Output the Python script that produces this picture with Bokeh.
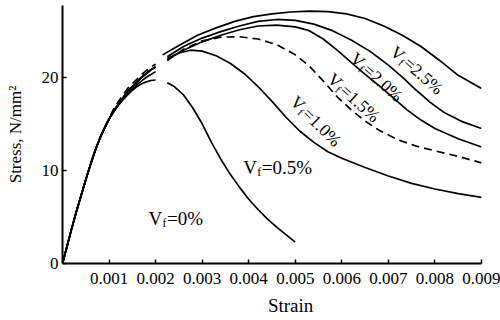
import math
from bokeh.plotting import figure
from bokeh.models import FixedTicker, PrintfTickFormatter, LinearAxis, CustomJSTickFormatter
from bokeh.core.properties import value
from bokeh.embed import file_html
from bokeh.resources import INLINE

# ---------------- data ----------------
x_ticks = [0.001, 0.002, 0.003, 0.004, 0.005, 0.006, 0.007, 0.008, 0.009]
y_ticks = [0, 10, 20]

# common rising branch (drawn up to the break near strain 0.002)
rise_strain = [0, 0.0001, 0.0002, 0.0003, 0.0004, 0.0005, 0.0006, 0.0007, 0.0008, 0.0009,
               0.0010, 0.0011, 0.0012, 0.0013, 0.0014, 0.0015, 0.0016, 0.0017, 0.0018, 0.0019, 0.0020]
rise_stress_00 = [0, 1.9, 3.8, 5.6, 7.3, 9.0, 10.6, 12.1, 13.4, 14.5,
                  15.5, 16.3, 17.0, 17.6, 18.1, 18.6, 19.0, 19.3, 19.5, 19.65, 19.7]
rise_stress_05 = [0, 1.9, 3.8, 5.6, 7.3, 9.0, 10.6, 12.1, 13.4, 14.5,
                  15.5, 16.3, 17.0, 17.6, 18.2, 18.7, 19.2, 19.6, 20.0, 20.3, 20.6]
rise_stress_fibre = [0, 1.9, 3.8, 5.6, 7.3, 9.0, 10.6, 12.1, 13.4, 14.5,
                     15.5, 16.4, 17.1, 17.8, 18.5, 19.0, 19.5, 20.0, 20.4, 20.8, 21.1]
rise_stress_10 = [0, 1.9, 3.8, 5.6, 7.3, 9.0, 10.6, 12.1, 13.5, 14.6,
                  15.6, 16.6, 17.4, 18.1, 18.8, 19.3, 19.8, 20.3, 20.7, 21.1, 21.4]

# branches after the break
post_strain_00 = [0.00225, 0.0024, 0.0026, 0.0028, 0.0030, 0.0032, 0.0034, 0.0036, 0.0038,
                  0.0040, 0.0042, 0.0044, 0.0046, 0.0048, 0.0050]
post_stress_00 = [19.4, 19.0, 18.1, 16.7, 15.0, 13.0, 11.2, 9.6, 8.2,
                  6.9, 5.8, 4.8, 3.9, 3.1, 2.3]

post_strain_05 = [0.00225, 0.0025, 0.00275, 0.0030, 0.0033, 0.0036, 0.0039, 0.0042, 0.0045, 0.0048,
                  0.0051, 0.0054, 0.0057, 0.0060, 0.0065, 0.0070, 0.0075, 0.0080, 0.0085, 0.0090]
post_stress_05 = [22.0, 22.6, 22.9, 22.8, 22.3, 21.5, 20.4, 19.0, 17.4, 15.7,
                  14.2, 13.0, 12.0, 11.3, 10.3, 9.4, 8.6, 8.0, 7.5, 7.1]

post_strain_10 = [0.00225, 0.0026, 0.0030, 0.0034, 0.0038, 0.0042, 0.0046, 0.0050, 0.0053, 0.0056,
                  0.0059, 0.0062, 0.0065, 0.0068, 0.0072, 0.0076, 0.0080, 0.0085, 0.0090]
post_stress_10 = [21.8, 23.0, 23.9, 24.3, 24.35, 24.1, 23.5, 22.4, 21.2, 19.6,
                  17.9, 16.5, 15.3, 14.3, 13.3, 12.6, 12.1, 11.5, 10.8]

post_strain_15 = [0.00225, 0.0026, 0.0030, 0.0034, 0.0038, 0.0042, 0.0046, 0.0050, 0.0053, 0.0056,
                  0.0059, 0.0062, 0.0065, 0.0068, 0.0071, 0.0074, 0.0077, 0.0080, 0.0085, 0.0090]
post_stress_15 = [21.9, 22.9, 23.8, 24.5, 25.1, 25.5, 25.6, 25.4, 25.0, 24.1,
                  22.9, 21.6, 20.3, 19.1, 17.8, 16.5, 15.4, 14.5, 13.4, 12.5]

post_strain_20 = [0.00225, 0.0026, 0.0030, 0.0034, 0.0038, 0.0042, 0.0046, 0.0050, 0.0054, 0.0058,
                  0.0062, 0.0066, 0.0070, 0.0073, 0.0076, 0.0079, 0.0082, 0.0086, 0.0090]
post_stress_20 = [22.2, 23.3, 24.2, 24.9, 25.5, 26.0, 26.2, 26.1, 25.7, 25.0,
                  24.0, 22.8, 21.3, 20.0, 18.6, 17.3, 16.2, 15.2, 14.5]

post_strain_25 = [0.00215, 0.0025, 0.0029, 0.0033, 0.0037, 0.0041, 0.0045, 0.0049, 0.0053, 0.0057,
                  0.0061, 0.0065, 0.0069, 0.0073, 0.0077, 0.0081, 0.0085, 0.0090]
post_stress_25 = [22.4, 23.4, 24.5, 25.3, 26.0, 26.5, 26.8, 27.0, 27.1, 27.05,
                  26.8, 26.3, 25.5, 24.5, 23.3, 21.8, 20.2, 18.8]

label_texts = ["0%", "0.5%", "1.0%", "1.5%", "2.0%", "2.5%"]

# ---------------- layout ----------------
FONT = "Liberation Serif"
W, H = 500, 320
ML, MR, MT, MB = 62, 19, 5, 57
XMAX, YMAX = 0.009, 27.7
FW = W - ML - MR
FH = H - MT - MB
pxs = FW / XMAX
pys = FH / YMAX

p = figure(width=W, height=H, x_range=(0, XMAX), y_range=(0, YMAX),
           output_backend="svg", toolbar_location=None, title=None,
           min_border_left=ML, min_border_right=MR,
           min_border_top=MT, min_border_bottom=MB)
p.outline_line_color = None
p.grid.visible = False
p.background_fill_color = "white"
p.border_fill_color = "white"

for ax in (p.xaxis[0], p.yaxis[0]):
    ax.axis_line_width = 2
    ax.axis_line_color = "black"
    ax.major_tick_in = 4
    ax.major_tick_out = 0
    ax.major_tick_line_color = "black"
    ax.major_tick_line_width = 1.5
    ax.minor_tick_line_color = None
    ax.major_label_text_font = FONT
    ax.major_label_text_font_size = "17px"
    ax.major_label_text_color = "black"

p.xaxis[0].ticker = FixedTicker(ticks=x_ticks)
p.xaxis[0].formatter = PrintfTickFormatter(format="%.3f")
p.xaxis[0].major_label_standoff = 9
p.yaxis[0].ticker = FixedTicker(ticks=y_ticks)
p.yaxis[0].major_label_standoff = 4
p.yaxis[0].axis_label = "Stress, N/mm\u00b2"
p.yaxis[0].axis_label_text_font = FONT
p.yaxis[0].axis_label_text_font_size = "17px"
p.yaxis[0].axis_label_text_font_style = "normal"
p.yaxis[0].axis_label_text_color = "black"
p.yaxis[0].axis_label_standoff = 14

# x axis title drawn as the single label of an extra, invisible axis below
strain_title = LinearAxis(ticker=FixedTicker(ticks=[0.0049]),
                          formatter=CustomJSTickFormatter(code="return 'Strain'"),
                          axis_line_color=None, major_tick_line_color=None,
                          minor_tick_line_color=None, major_label_standoff=2,
                          major_label_text_font=FONT, major_label_text_font_size="19px",
                          major_label_text_color="black")
p.add_layout(strain_title, "below")

LW = 1.7
curves = [
    (rise_stress_00, post_strain_00, post_stress_00, "solid"),
    (rise_stress_05, post_strain_05, post_stress_05, "solid"),
    (rise_stress_fibre, post_strain_15, post_stress_15, "solid"),
    (rise_stress_fibre, post_strain_20, post_stress_20, "solid"),
    (rise_stress_fibre, post_strain_25, post_stress_25, "solid"),
    (rise_stress_10, post_strain_10, post_stress_10, "8 5"),
]
for rs, ps_x, ps_y, dash in curves:
    p.line(rise_strain, rs, line_color="black", line_width=LW, line_dash=dash)
    p.line(ps_x, ps_y, line_color="black", line_width=LW, line_dash=dash)


def vf_label(x, y, pct, deg, size):
    th = math.radians(deg)
    sub = size * 0.62
    pieces = [("V", 0.0, 0.0, size),
              ("f", 0.722 * size + 0.3, 0.24 * size, sub),
              ("=" + pct, 0.722 * size + 0.333 * sub + 1.0, 0.0, size)]
    for txt, a, d, fs in pieces:
        ox = a * math.cos(th) + d * math.sin(th)
        oy = -a * math.sin(th) + d * math.cos(th)
        p.text(x=[x + ox / pxs], y=[y - oy / pys], text=[txt], angle=th,
               text_font=value(FONT), text_font_size=value(f"{fs:.1f}px"),
               text_align="left", text_baseline="alphabetic", text_color="black")


vf_label(0.001845, 4.84, label_texts[0], 0, 19)
vf_label(0.00388, 10.3, label_texts[1], 0, 19)
vf_label(0.00496, 17.7, label_texts[2], -45, 17.5)
vf_label(0.00575, 20.1, label_texts[3], -42, 17.5)
vf_label(0.00624, 22.3, label_texts[4], -42, 17.5)
vf_label(0.0071, 23.0, label_texts[5], -41, 17.5)

open("out.html", "w").write(file_html(p, INLINE))
